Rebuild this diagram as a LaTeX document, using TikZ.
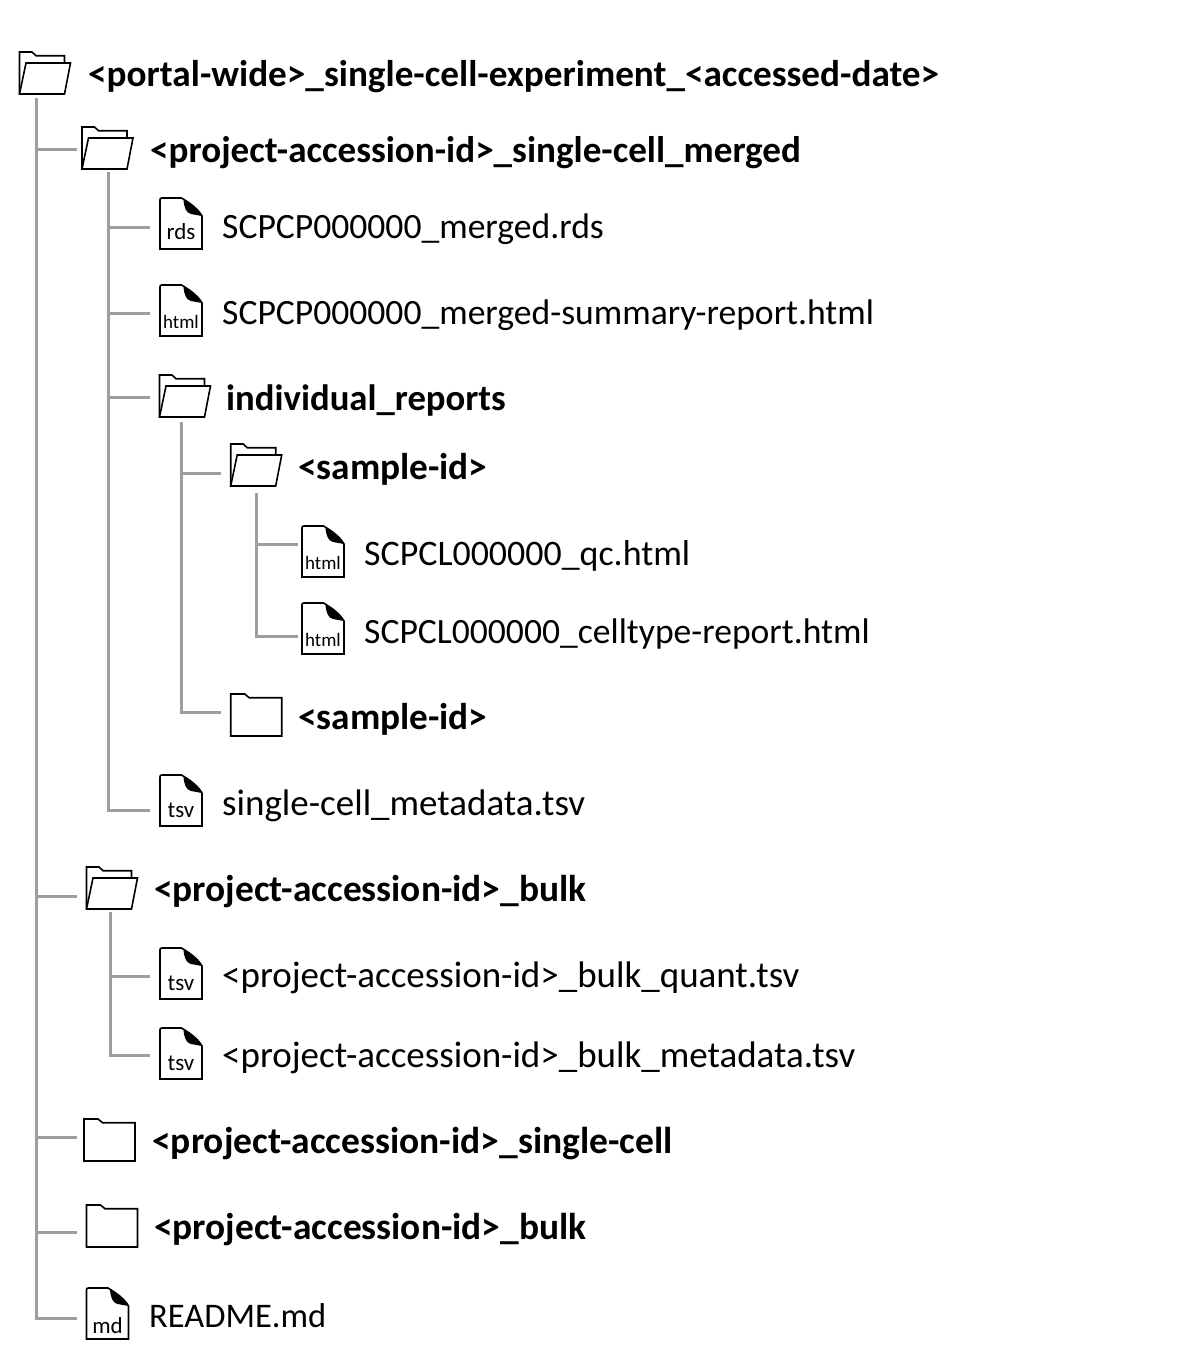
\documentclass[tikz,border=0pt]{standalone}
\usepackage{fontspec}
\setmainfont{Carlito}
\newcommand{\fs}[1]{\fontsize{#1}{40}\selectfont}
\tikzset{
  outlinepath/.style={draw=black,line width=1.6pt,line join=miter,fill=white},
  conn/.style={draw=black!38,line width=3pt,line join=miter},
  iconbox/.style={inner sep=0pt,outer sep=0pt,anchor=north west},
  boldlabel/.style={anchor=base west,inner sep=0pt,font=\fs{37}\bfseries},
  plainlabel/.style={anchor=base west,inner sep=0pt,font=\fs{37}},
  tagtext/.style={anchor=base,inner sep=0pt}
}
% #1 name, #2 x, #3 y
\newcommand{\openfolder}[3]{%
  \node[iconbox,minimum width=51pt,minimum height=42pt] (#1) at (#2,#3) {};
  \begin{scope}[shift={(#2,#3)}]
    \draw[outlinepath] (0,42) -- (0,0) -- (12.5,0) -- (16.5,3.7) -- (45,3.7) -- (45,11);
    \draw[outlinepath] (6.5,11) -- (51,11) -- (45,42) -- (0,42) -- cycle;
  \end{scope}}
\newcommand{\closedfolder}[3]{%
  \node[iconbox,minimum width=51pt,minimum height=42pt] (#1) at (#2,#3) {};
  \begin{scope}[shift={(#2,#3)}]
    \draw[outlinepath] (0,42) -- (0,0) -- (14,0) -- (18.5,3.7) -- (51,3.7) -- (51,42) -- cycle;
  \end{scope}}
% #4 tag, #5 tag font size, #6 tag baseline inside the icon
\newcommand{\fileicon}[6]{%
  \node[iconbox,minimum width=42pt,minimum height=51pt] (#1) at (#2,#3) {};
  \begin{scope}[shift={(#2,#3)}]
    \draw[outlinepath] (0,51) -- (0,2) .. controls (0,0.5) and (0.5,0) .. (2,0) -- (21.5,0) .. controls (30,5) and (38,11) .. (42,18) -- (42,51) -- cycle;
    \fill[black] (21.5,0) .. controls (30,5) and (38,11) .. (42,18) -- (31,16) .. controls (26,15) and (24,9) .. (23.5,1.5) -- cycle;
    \node[tagtext,font=\fs{#5}] (#1tag) at (21,#6) {#4};
  \end{scope}}
% #1 spine coordinate, #2 icon node, #3 gap, #4 drop below the icon's west point
\newcommand{\branch}[4]{\draw[conn] (#1) |- ([shift={(-#3pt,-#4pt)}]#2.west);}
\begin{document}
\begin{tikzpicture}[x=1pt,y=-1pt]
\useasboundingbox (0,0) rectangle (1200,1366);
\fill[white] (0,0) rectangle (1200,1366);

% ---- icons and labels ----
\openfolder{root}{19.5}{52}
\node[boldlabel,font=\fs{37.2}\bfseries] (rootl) at (88,86) {<portal-wide>\_single-cell-experiment\_<accessed-date>};
\openfolder{merged}{82}{127}
\node[boldlabel,font=\fs{37.1}\bfseries] (mergedl) at (150,162) {<project-accession-id>\_single-cell\_merged};
\fileicon{rds}{160}{198}{rds}{23}{41.5}
\node[plainlabel,font=\fs{35.6}] (rdsl) at (222,238) {SCPCP000000\_merged.rds};
\fileicon{summary}{160}{285}{html}{19}{43}
\node[plainlabel,font=\fs{35.6}] (summaryl) at (222,324) {SCPCP000000\_merged-summary-report.html};
\openfolder{indiv}{159.5}{375}
\node[boldlabel,font=\fs{36.7}\bfseries] (indivl) at (226,410) {individual\_reports};
\openfolder{sampa}{230.7}{444}
\node[boldlabel,font=\fs{37.3}\bfseries] (sampal) at (298,479) {<sample-id>};
\fileicon{qc}{302}{526}{html}{19}{43}
\node[plainlabel,font=\fs{35.9}] (qcl) at (364,565) {SCPCL000000\_qc.html};
\fileicon{celltype}{302}{603}{html}{19}{43}
\node[plainlabel,font=\fs{35.6}] (celltypel) at (364,643) {SCPCL000000\_celltype-report.html};
\closedfolder{sampb}{230.7}{694}
\node[boldlabel,font=\fs{37.3}\bfseries] (sampbl) at (298,729) {<sample-id>};
\fileicon{meta}{160}{775}{tsv}{23}{42.5}
\node[plainlabel] (metal) at (222,815) {single-cell\_metadata.tsv};
\openfolder{bulk}{86.5}{867}
\node[boldlabel,font=\fs{37.4}\bfseries] (bulkl) at (154,901) {<project-accession-id>\_bulk};
\fileicon{quant}{160}{948}{tsv}{23}{42}
\node[plainlabel] (quantl) at (222,987) {<project-accession-id>\_bulk\_quant.tsv};
\fileicon{bulkmeta}{160}{1028}{tsv}{23}{42}
\node[plainlabel] (bulkmetal) at (222,1067) {<project-accession-id>\_bulk\_metadata.tsv};
\closedfolder{sc}{84}{1119}
\node[boldlabel,font=\fs{37.5}\bfseries] (scl) at (152,1153) {<project-accession-id>\_single-cell};
\closedfolder{bulkb}{86.5}{1205}
\node[boldlabel,font=\fs{37.4}\bfseries] (bulkbl) at (154,1239) {<project-accession-id>\_bulk};
\fileicon{readme}{86.5}{1288}{md}{23}{45}
\node[plainlabel,font=\fs{34.5}] (readmel) at (149,1327) {README.md};

% ---- connector spines ----
\coordinate (sproot) at (36,98);
\coordinate (spmerged) at (108,172);
\coordinate (spindiv) at (181,422);
\coordinate (spsampa) at (256,493);
\coordinate (spbulk) at (110,912);

\branch{sproot}{merged}{5}{1}
\branch{sproot}{bulk}{9.5}{8}
\branch{sproot}{sc}{7}{-3}
\branch{sproot}{bulkb}{9.5}{6}
\branch{sproot}{readme}{9.5}{4.5}

\branch{spmerged}{rds}{10}{3.5}
\branch{spmerged}{summary}{10}{2.5}
\branch{spmerged}{indiv}{10}{1}
\branch{spmerged}{meta}{10}{9.5}

\branch{spindiv}{sampa}{9.7}{8}
\branch{spindiv}{sampb}{9.7}{-3}

\branch{spsampa}{qc}{4}{-7.5}
\branch{spsampa}{celltype}{4}{7.5}

\branch{spbulk}{quant}{10}{2.5}
\branch{spbulk}{bulkmeta}{10}{1.5}
\end{tikzpicture}
\end{document}
